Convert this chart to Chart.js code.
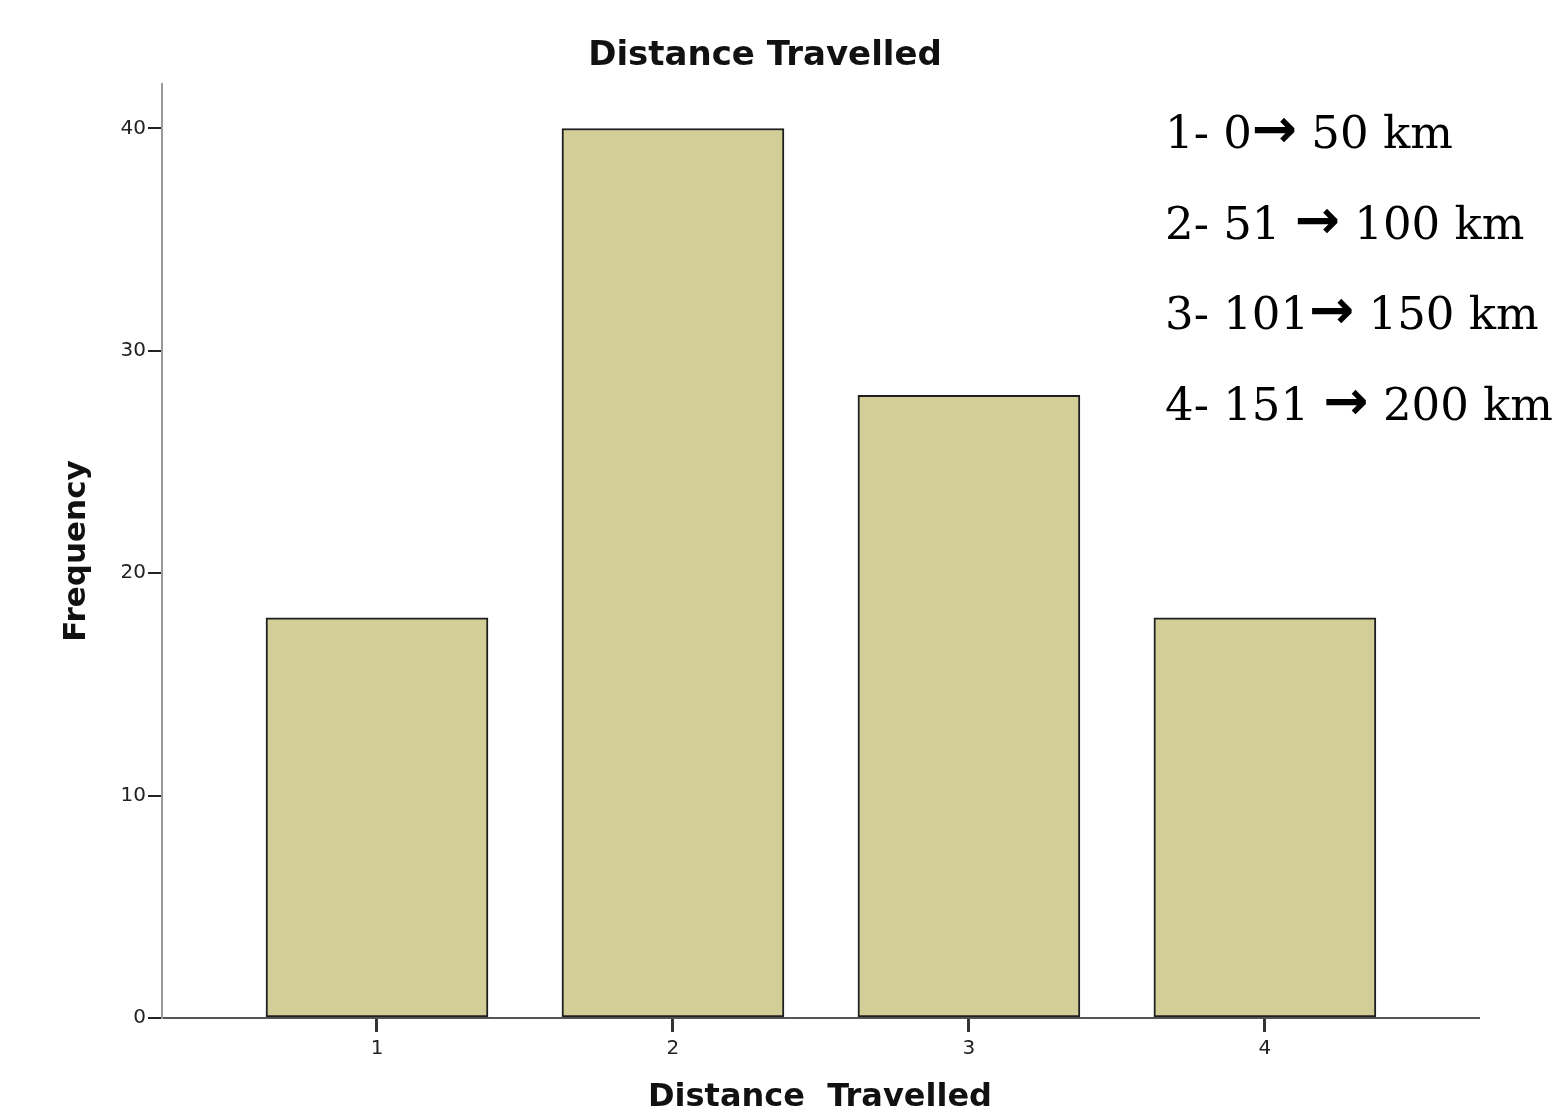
<!DOCTYPE html>
<html>
<head>
<meta charset="utf-8">
<title>Distance Travelled</title>
<script src="https://cdn.jsdelivr.net/npm/chart.js@4.4.0/dist/chart.umd.min.js"></script>
<style>
  body { margin: 0; background: #fff; }
  #chart { display: block; }
</style>
</head>
<body>
<canvas id="chart" width="1558" height="1114"></canvas>
<script>
// data
const categories = [1, 2, 3, 4];
const frequencies = [18, 40, 28, 18];
const yTicks = [0, 10, 20, 30, 40];

const chartTitle = 'Distance Travelled';

// key text on the right
const keyFrom = ['1- 0', '2- 51 ', '3- 101', '4- 151 '];
const keyTo = [' 50 km', ' 100 km', ' 150 km', ' 200 km'];

// title + key drawn by hand so they sit where the original has them
const textPlugin = {
  id: 'extraText',
  afterDraw(chart) {
    const ctx = chart.ctx;
    ctx.save();
    ctx.fillStyle = '#111';
    ctx.font = 'bold 34px "DejaVu Sans"';
    ctx.textAlign = 'center';
    ctx.textBaseline = 'middle';
    ctx.fillText(chartTitle, 765, 56);

    ctx.fillStyle = '#000';
    ctx.textBaseline = 'alphabetic';
    ctx.textAlign = 'left';
    keyFrom.forEach((from, i) => {
      let x = 1165;
      const y = 148 + i * 90.5;
      ctx.font = '45px "DejaVu Serif"';
      ctx.fillText(from, x, y);
      x += ctx.measureText(from).width;
      ctx.font = 'bold 54px "DejaVu Sans"';
      ctx.fillText('\u2192', x, y - 1);
      x += ctx.measureText('\u2192').width;
      ctx.font = '45px "DejaVu Serif"';
      ctx.fillText(keyTo[i], x, y);
    });
    ctx.restore();
  }
};

new Chart(document.getElementById('chart'), {
  type: 'bar',
  data: {
    datasets: [{
      label: 'Frequency',
      data: categories.map((c, i) => ({ x: c, y: frequencies[i] })),
      backgroundColor: '#d3ce98',
      borderColor: '#1e1e1e',
      borderWidth: 2,
      borderSkipped: false,
      barThickness: 222
    }]
  },
  options: {
    responsive: false,
    animation: false,
    layout: { padding: { left: 0, right: 80, top: 84, bottom: 0 } },
    plugins: {
      legend: { display: false },
      tooltip: { enabled: false },
      title: { display: false }
    },
    scales: {
      x: {
        type: 'linear',
        offset: false,
        min: 0.2736,
        max: 4.72,
        afterBuildTicks: s => { s.ticks = categories.map(v => ({ value: v })); },
        afterFit: s => { s.height = 96; },
        border: { color: '#555', width: 2 },
        grid: { offset: false, drawOnChartArea: false, drawTicks: true, tickLength: 14, color: '#333', lineWidth: 3 },
        ticks: { color: '#222', font: { family: 'DejaVu Sans', size: 20 }, padding: 5 },
        title: {
          display: true,
          text: 'Distance  Travelled',
          color: '#111',
          font: { family: 'DejaVu Sans', size: 32, weight: 'bold', lineHeight: 1 },
          padding: { top: 0, bottom: 0 }
        }
      },
      y: {
        min: 0,
        max: 42,
        afterBuildTicks: s => { s.ticks = yTicks.map(v => ({ value: v })); },
        afterFit: s => { s.width = 162; },
        border: { color: '#999', width: 2 },
        grid: { drawOnChartArea: false, drawTicks: true, tickLength: 14, color: '#222', lineWidth: 2 },
        ticks: { color: '#222', font: { family: 'DejaVu Sans', size: 20 }, padding: 2 },
        title: {
          display: true,
          text: 'Frequency',
          color: '#111',
          font: { family: 'DejaVu Sans', size: 31, weight: 'bold', lineHeight: 1.2 },
          padding: { top: 58, bottom: 0 }
        }
      }
    }
  },
  plugins: [textPlugin]
});
</script>
</body>
</html>
